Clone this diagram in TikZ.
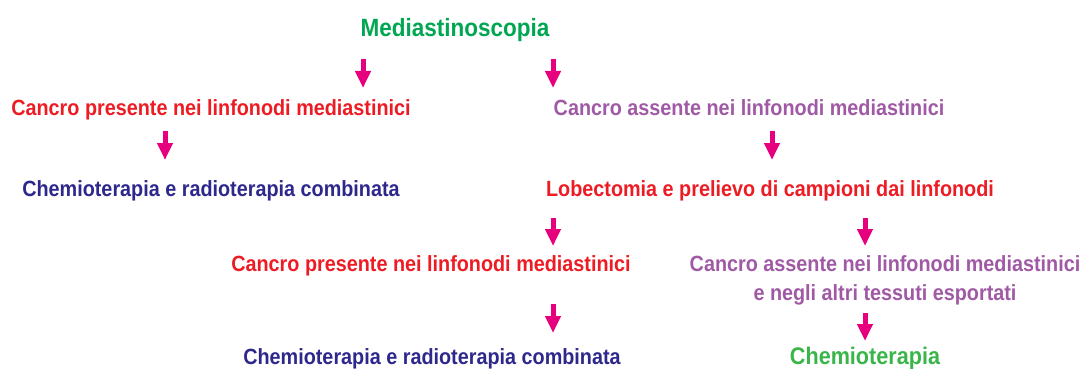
\documentclass[tikz,border=0pt]{standalone}
\usepackage{fontspec}
\setmainfont{Liberation Sans}[FakeStretch=0.9]
\usepackage{tikz}
\usetikzlibrary{arrows.meta,positioning}

\definecolor{medgreen}{RGB}{0,166,81}
\definecolor{chemgreen}{RGB}{57,181,74}
\definecolor{cancred}{RGB}{237,28,36}
\definecolor{cancpurple}{RGB}{160,90,165}
\definecolor{therindigo}{RGB}{46,40,140}
\definecolor{arrmagenta}{RGB}{230,0,126}

\begin{document}
\begin{tikzpicture}[x=1pt, y=-1pt,
    txt/.style={inner sep=0pt, anchor=base, font=\fontsize{22}{26}\selectfont\bfseries, align=center},
    big/.style={font=\fontsize{25}{29}\selectfont\bfseries},
    arr/.style={draw=arrmagenta, line width=5pt, -{Triangle[width=15pt,length=17pt]}}]
  \useasboundingbox (0,0) rectangle (1087,369);

  \node[txt, big, text=medgreen] (med) at (455,37) {Mediastinoscopia};

  \node[txt, text=cancred] (pres1) at (211,115) {Cancro presente nei linfonodi mediastinici};
  \node[txt, text=cancpurple] (ass1) at (749,115) {Cancro assente nei linfonodi mediastinici};

  \node[txt, text=therindigo] (chemrad1) at (211,196) {Chemioterapia e radioterapia combinata};
  \node[txt, text=cancred] (lobect) at (770,196) {Lobectomia e prelievo di campioni dai linfonodi};

  \node[txt, text=cancred] (pres2) at (431,271) {Cancro presente nei linfonodi mediastinici};
  \node[txt, text=cancpurple] (ass2) at (885,300) {Cancro assente nei linfonodi mediastinici\\[3pt]e negli altri tessuti esportati};

  \node[txt, text=therindigo] (chemrad2) at (432,364) {Chemioterapia e radioterapia combinata};
  \node[txt, text=chemgreen, font=\fontsize{24}{28}\selectfont\bfseries] (chemo) at (865,364) {Chemioterapia};

  % arrow ends
  \coordinate (a1s) at (363,59);  \coordinate (a1e) at (363,88);
  \coordinate (a2s) at (553,59);  \coordinate (a2e) at (553,88);
  \coordinate (a3s) at (165,131); \coordinate (a3e) at (165,160);
  \coordinate (a4s) at (772,131); \coordinate (a4e) at (772,160);
  \coordinate (a5s) at (553,218); \coordinate (a5e) at (553,246);
  \coordinate (a6s) at (865,218); \coordinate (a6e) at (865,246);
  \coordinate (a7s) at (553,304); \coordinate (a7e) at (553,333);
  \coordinate (a8s) at (865,313); \coordinate (a8e) at (865,341);

  \draw[arr] (a1s)--(a1e);
  \draw[arr] (a2s)--(a2e);
  \draw[arr] (a3s)--(a3e);
  \draw[arr] (a4s)--(a4e);
  \draw[arr] (a5s)--(a5e);
  \draw[arr] (a6s)--(a6e);
  \draw[arr] (a7s)--(a7e);
  \draw[arr] (a8s)--(a8e);
\end{tikzpicture}
\end{document}
